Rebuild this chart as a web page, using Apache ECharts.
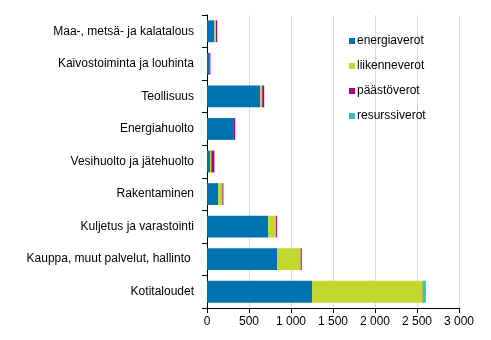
<!DOCTYPE html>
<html><head><meta charset="utf-8">
<script src="https://cdn.jsdelivr.net/npm/echarts@6/dist/echarts.min.js"></script>
<style>html,body{margin:0;padding:0;background:#fff}#c{width:491px;height:340px}</style>
</head><body><div id="c"></div>
<script>
const categories = ["Maa-, metsä- ja kalatalous","Kaivostoiminta ja louhinta","Teollisuus","Energiahuolto","Vesihuolto ja jätehuolto","Rakentaminen","Kuljetus ja varastointi","Kauppa, muut palvelut, hallinto ","Kotitaloudet"];
const seriesNames = ["energiaverot","liikenneverot","päästöverot","resurssiverot"];
const energiaverot = [87, 28, 633, 320, 36, 131, 728, 835, 1251];
const liikenneverot = [20, 0, 24, 0, 16, 52, 95, 281, 1318];
const paastoverot = [15, 12, 24, 16, 36, 12, 12, 12, 8];
const resurssiverot = [0, 0, 0, 0, 0, 0, 0, 0, 28];
const xTicks = [0, 500, 1000, 1500, 2000, 2500, 3000];
const colors = ["#0072B0","#C2D82F","#A4037F","#2FC1BA"];
const dataSets = [energiaverot, liikenneverot, paastoverot, resurssiverot];
const font = "Liberation Sans, Arial, sans-serif";
const chart = echarts.init(document.getElementById('c'));
chart.setOption({
  animation: false,
  color: colors,
  textStyle: {fontFamily: font},
  grid: {left: 207, right: 32, top: 15, bottom: 32, containLabel: false},
  legend: {
    orient: 'vertical', left: 344, top: 30, itemWidth: 6, itemHeight: 6, itemGap: 13,
    icon: 'rect', data: seriesNames,
    textStyle: {fontSize: 12, color: '#000', fontFamily: font, padding: [0,0,0,-3]}
  },
  xAxis: {
    type: 'value', min: xTicks[0], max: xTicks[xTicks.length-1], interval: 500,
    axisLine: {show: true, lineStyle: {color: '#000'}},
    axisTick: {show: true, length: 5, lineStyle: {color: '#000'}},
    axisLabel: {color: '#000', fontSize: 12, margin: 8, fontFamily: font,
      formatter: v => v >= 1000 ? String(v).replace(/(\d)(\d{3})$/, '$1 $2') : String(v)},
    splitLine: {show: true, lineStyle: {color: '#d9d9d9'}}
  },
  yAxis: {
    type: 'category', data: categories, inverse: true,
    axisLine: {show: true, lineStyle: {color: '#000'}},
    axisTick: {show: true, length: 5, lineStyle: {color: '#000'}},
    axisLabel: {color: '#000', fontSize: 12, margin: 13, fontFamily: font}
  },
  series: seriesNames.map((n, i) => ({
    name: n, type: 'bar', stack: 'total', data: dataSets[i],
    barCategoryGap: '33%', itemStyle: {color: colors[i]}
  }))
});
</script></body></html>
